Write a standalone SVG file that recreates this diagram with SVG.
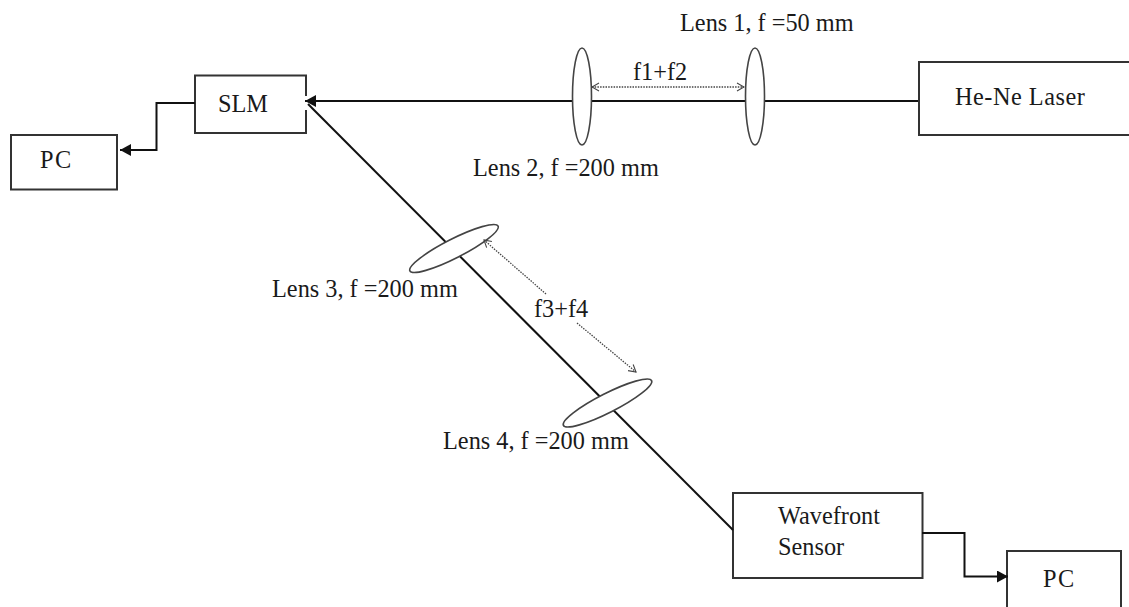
<svg xmlns="http://www.w3.org/2000/svg" width="1129" height="607" viewBox="0 0 1129 607">
<style>
.box{fill:#fff;stroke:#333;stroke-width:2}
.lens{fill:#fff;stroke:#444;stroke-width:1.6}
.line{fill:none;stroke:#111;stroke-width:2}
.dot{fill:none;stroke:#444;stroke-width:1.3;stroke-dasharray:1.5 1.2}
.pc{letter-spacing:1.500px}
text{font-family:"Liberation Serif","Times New Roman",serif;font-size:24.300px;fill:#1a1a1a}
</style>
<defs>
<marker id="solid" markerUnits="userSpaceOnUse" markerWidth="12" markerHeight="12" refX="11" refY="6" orient="auto"><path d="M0 0L11 6L0 12Z" fill="#111"/></marker>
<marker id="open" markerUnits="userSpaceOnUse" markerWidth="9" markerHeight="10" refX="8" refY="5" orient="auto-start-reverse"><path d="M1 1L8 5L1 9" fill="none" stroke="#444" stroke-width="1.1"/></marker>
</defs>
<g id="slm"><path class="box" d="M306 96V75.500H195V133H306V110"/><text x="218" y="112">SLM</text></g>
<g id="pc-left"><rect class="box" x="11" y="135" width="106" height="54.500"/><text class="pc" x="40" y="168">PC</text></g>
<g id="laser"><rect class="box" x="919" y="62" width="212" height="73"/><text x="955" y="105" letter-spacing="0.500">He-Ne Laser</text></g>
<g id="sensor"><rect class="box" x="733" y="493" width="189.500" height="85"/><text x="778" y="524">Wavefront</text><text x="778" y="555">Sensor</text></g>
<g id="pc-right"><rect class="box" x="1007" y="551" width="114" height="60"/><text class="pc" x="1043" y="587">PC</text></g>
<g id="connectors">
<path class="line" d="M918 101H305" marker-end="url(#solid)"/>
<path class="line" d="M733 530L308 104"/>
<path class="line" d="M195 103H156.500V150H120" marker-end="url(#solid)"/>
<path class="line" d="M922 533H964.500V576.500H1008" marker-end="url(#solid)"/>
</g>
<g id="lens1"><ellipse class="lens" cx="755" cy="96.500" rx="9.500" ry="48.500"/><text x="680" y="31">Lens 1, f =50 mm</text></g>
<g id="lens2"><ellipse class="lens" cx="582" cy="96.500" rx="9.500" ry="48.500"/><text x="473" y="176">Lens 2, f =200 mm</text></g>
<g id="lens3"><ellipse class="lens" cx="454" cy="248.500" rx="49.500" ry="9.500" transform="rotate(-27 454 248.500)"/><text x="272" y="297">Lens 3, f =200 mm</text></g>
<g id="lens4"><ellipse class="lens" cx="607.500" cy="403" rx="49.500" ry="9.500" transform="rotate(-27 607.500 403)"/><text x="443" y="449">Lens 4, f =200 mm</text></g>
<g id="spacings">
<path class="dot" d="M592 87H744" marker-start="url(#open)" marker-end="url(#open)"/>
<text x="633" y="80">f1+f2</text>
<path class="dot" d="M546 294L484 240" marker-end="url(#open)"/>
<path class="dot" d="M577 323L636 372" marker-end="url(#open)"/>
<text x="534" y="317">f3+f4</text>
</g>
</svg>
